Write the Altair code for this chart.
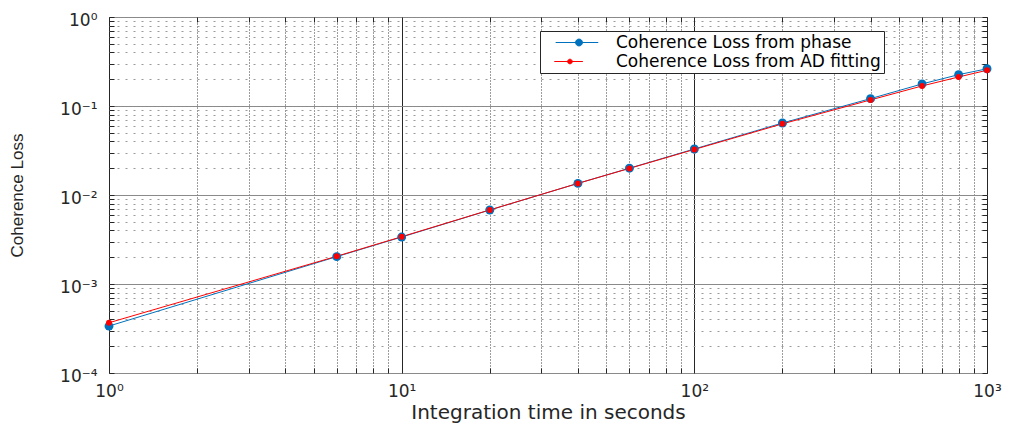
import altair as alt
import pandas as pd

t_sec = [1, 6, 10, 20, 40, 60, 100, 200, 400, 600, 800, 1000]
loss_phase = [3.37e-4, 2.03e-3, 3.37e-3, 6.78e-3, 1.35e-2, 2.00e-2, 3.29e-2, 6.44e-2, 0.121, 0.177, 0.225, 0.262]
loss_ad = [3.67e-4, 2.05e-3, 3.40e-3, 6.80e-3, 1.35e-2, 1.99e-2, 3.25e-2, 6.30e-2, 0.117, 0.168, 0.212, 0.252]
series = ["Coherence Loss from phase", "Coherence Loss from AD fitting"]
colors = ["#0072BD", "#FF0000"]
marker_sizes = [80, 36]

x_ticks = [m * 10 ** e for e in range(0, 3) for m in range(1, 10)] + [1000]
y_ticks = [m * 10.0 ** e for e in range(-4, 0) for m in range(1, 10)] + [1.0]

rows = []
for s, vals in zip(series, [loss_phase, loss_ad]):
    for t, v in zip(t_sec, vals):
        rows.append({"t": t, "loss": v, "series": s})
df = pd.DataFrame(rows)

FONT = "DejaVu Sans"
DEC = "abs(log(datum.value)/LN10 - round(log(datum.value)/LN10)) < 1e-6"
x_label = f"({DEC}) ? '10' + ['\u2070','\u00b9','\u00b2','\u00b3'][round(log(datum.value)/LN10)] : ''"
y_label = f"({DEC}) ? '10' + ['\u2070','\u207b\u00b9','\u207b\u00b2','\u207b\u00b3','\u207b\u2074'][-round(log(datum.value)/LN10)] : ''"

x_scale = alt.Scale(type="log", domain=[1, 1000], nice=False)
y_scale = alt.Scale(type="log", domain=[1e-4, 1], nice=False)

x_main = alt.Axis(
    values=x_ticks, labelExpr=x_label, title="Integration time in seconds",
    grid=True,
    gridColor={"condition": {"test": DEC, "value": "#262626"}, "value": "#3a3a3a"},
    gridDash={"condition": {"test": DEC, "value": []}, "value": [1, 2]},
    gridWidth=1, ticks=False, tickSize=0, domain=False,
    labelFont=FONT, labelFontSize=17, labelColor="#262626", labelPadding=10,
    labelFlush=False, labelOverlap=False,
    titleFont=FONT, titleFontSize=20, titleFontWeight="normal", titleColor="#262626",
    titlePadding=3,
)
y_main = alt.Axis(
    values=y_ticks, labelExpr=y_label, title="Coherence Loss",
    grid=True,
    gridColor={"condition": {"test": DEC, "value": "#8a8a8a"}, "value": "#9a9a9a"},
    gridDash={"condition": {"test": DEC, "value": []}, "value": [2, 6]},
    gridWidth=1, ticks=False, tickSize=0, domain=False,
    labelFont=FONT, labelFontSize=17, labelColor="#262626", labelPadding=12,
    labelOffset=3, labelFlush=False, labelOverlap=False,
    titleFont="Liberation Sans", titleFontSize=17, titleFontWeight="normal",
    titleColor="#262626", titlePadding=33,
)

legend_path = "M0.92,0L10.46,0M5.38,0A0.77,0.77,0,1,1,6.92,0A0.77,0.77,0,1,1,5.38,0Z"
color_enc = alt.Color(
    "series:N",
    scale=alt.Scale(domain=series, range=colors),
    legend=alt.Legend(
        title=None, orient="none", legendX=431, legendY=14,
        fillColor="white", strokeColor="#262626", padding=3,
        symbolType=legend_path, symbolSize=144, symbolStrokeWidth=1,
        labelOffset=56, labelFont=FONT, labelFontSize=17, labelColor="#000000",
        labelLimit=500, rowPadding=1,
    ),
)

base = alt.Chart(df)

lines = base.mark_line(strokeWidth=1).encode(
    x=alt.X("t:Q", scale=x_scale, axis=x_main),
    y=alt.Y("loss:Q", scale=y_scale, axis=y_main),
    color=color_enc,
    order=alt.Order("t:Q"),
)
points = base.mark_point(filled=True, opacity=1, shape="circle").encode(
    x=alt.X("t:Q", scale=x_scale, axis=None),
    y=alt.Y("loss:Q", scale=y_scale, axis=None),
    color=color_enc,
    size=alt.Size("series:N", scale=alt.Scale(domain=series, range=marker_sizes), legend=None),
)


def tick_axis(orient, vals):
    return alt.Axis(
        orient=orient, values=vals, labels=False, title=None, grid=False,
        domain=False, ticks=True, tickSize=5, tickColor="#262626", tickWidth=1,
        offset=-5,
    )


ticks_a = base.mark_point(opacity=0).encode(
    x=alt.X("t:Q", scale=x_scale, axis=tick_axis("bottom", x_ticks)),
    y=alt.Y("loss:Q", scale=y_scale, axis=tick_axis("left", y_ticks)),
)
ticks_b = base.mark_point(opacity=0).encode(
    x=alt.X("t:Q", scale=x_scale, axis=tick_axis("top", x_ticks)),
    y=alt.Y("loss:Q", scale=y_scale, axis=tick_axis("right", y_ticks)),
)

chart = (
    alt.layer(lines, points, ticks_a, ticks_b)
    .resolve_axis(x="independent", y="independent")
    .properties(
        width=878, height=356,
        autosize=alt.AutoSizeParams(type="none"),
        padding={"left": 101, "top": 9, "right": 20, "bottom": 50},
    )
    .configure_view(stroke="#262626", strokeWidth=1.5)
    .configure(background="white")
)

chart.save("out.html", embed_options={"renderer": "svg", "actions": False})
